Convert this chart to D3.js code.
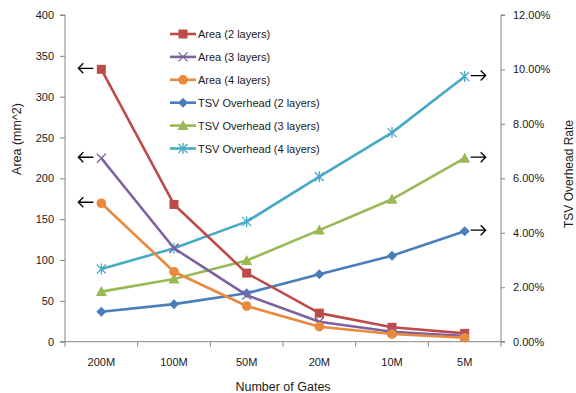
<!DOCTYPE html>
<html>
<head>
<meta charset="utf-8">
<script src="https://cdn.jsdelivr.net/npm/d3@7/dist/d3.min.js"></script>
<style>
  html, body { margin: 0; padding: 0; background: #fff; }
  svg { display: block; font-family: "Liberation Sans", Arial, sans-serif; }
</style>
</head>
<body>
<svg id="chart" width="576" height="393"></svg>
<script>
// Gate-count categories along the x axis
const categories = ["200M", "100M", "50M", "20M", "10M", "5M"];

// Die area (mm^2), left axis
const area2 = [333.5, 168, 84, 35, 17.6, 10.2];
const area3 = [224.6, 114.4, 57, 24.5, 12.2, 7];
const area4 = [169.5, 85.7, 43.7, 18.4, 9.4, 4.9];

// TSV overhead rate (%), right axis
const tsv2 = [1.10, 1.38, 1.78, 2.48, 3.16, 4.06];
const tsv3 = [1.84, 2.30, 2.98, 4.10, 5.23, 6.74];
const tsv4 = [2.67, 3.43, 4.41, 6.06, 7.68, 9.74];

// Axis tick values
const areaTicks = [0, 50, 100, 150, 200, 250, 300, 350, 400];
const rateTicks = [0, 2, 4, 6, 8, 10, 12];

const series = [
  { name: "Area (2 layers)", values: area2, axis: "left", color: "#BE4B48", marker: "square" },
  { name: "Area (3 layers)", values: area3, axis: "left", color: "#7D60A0", marker: "cross" },
  { name: "Area (4 layers)", values: area4, axis: "left", color: "#E8893C", marker: "circle" },
  { name: "TSV Overhead (2 layers)", values: tsv2, axis: "right", color: "#4A7EBB", marker: "diamond" },
  { name: "TSV Overhead (3 layers)", values: tsv3, axis: "right", color: "#98B954", marker: "triangle" },
  { name: "TSV Overhead (4 layers)", values: tsv4, axis: "right", color: "#46AAC5", marker: "star" }
];

const svg = d3.select("#chart");
const plot = { left: 65, right: 501, top: 15, bottom: 341.7 };
const axisColor = "#868686";
const textColor = "#1a1a1a";

const x = d3.scaleBand().domain(categories).range([plot.left, plot.right]).paddingInner(0).paddingOuter(0);
const cx = c => x(c) + x.bandwidth() / 2;
const yL = d3.scaleLinear().domain([0, 400]).range([plot.bottom, plot.top]);
const yR = d3.scaleLinear().domain([0, 12]).range([plot.bottom, plot.top]);

// Left axis
const gL = svg.append("g").attr("transform", `translate(${plot.left},0)`)
  .call(d3.axisLeft(yL).tickValues(areaTicks).tickSize(5).tickPadding(6).tickFormat(d3.format("d")));
// Right axis
const gR = svg.append("g").attr("transform", `translate(${plot.right},0)`)
  .call(d3.axisRight(yR).tickValues(rateTicks).tickSize(4).tickPadding(8).tickFormat(d => d.toFixed(2) + "%"));
// Bottom axis: ticks on category boundaries
const gB = svg.append("g").attr("transform", `translate(0,${plot.bottom})`)
  .call(d3.axisBottom(x).tickSize(0).tickPadding(17));
const bounds = categories.map(c => x(c)).concat([plot.right]);
gB.selectAll(".bound").data(bounds).enter().append("line")
  .attr("x1", d => d).attr("x2", d => d).attr("y1", 0).attr("y2", 5)
  .attr("stroke", axisColor);

[gL, gR, gB].forEach(g => {
  g.select(".domain").attr("stroke", axisColor).attr("stroke-width", 1);
  g.selectAll(".tick line").attr("stroke", axisColor);
  g.selectAll("text").attr("fill", textColor).style("font-size", "11px")
    .style("font-family", "'Liberation Sans', Arial, sans-serif");
});
gL.select(".domain").attr("d", `M-5,${plot.bottom}H0V${plot.top}H-5`);
gR.select(".domain").attr("d", `M4,${plot.bottom}H0V${plot.top}H4`);
gB.select(".domain").attr("d", `M${plot.left},0H${plot.right}`);

// Axis titles
svg.append("text").attr("transform", "translate(21,139) rotate(-90)")
  .attr("text-anchor", "middle").attr("fill", textColor).style("font-size", "12.5px").text("Area (mm^2)");
svg.append("text").attr("transform", "translate(573,174) rotate(-90)")
  .attr("text-anchor", "middle").attr("fill", textColor).style("font-size", "12px").text("TSV Overhead Rate");
svg.append("text").attr("x", 283).attr("y", 391)
  .attr("text-anchor", "middle").attr("fill", textColor).style("font-size", "12.5px").text("Number of Gates");

// Marker drawing
function drawMarker(g, type, color) {
  switch (type) {
    case "square":
      g.append("rect").attr("x", -4.5).attr("y", -4.5).attr("width", 9).attr("height", 9).attr("fill", color);
      break;
    case "circle":
      g.append("circle").attr("r", 4.8).attr("fill", color);
      break;
    case "diamond":
      g.append("path").attr("d", "M0,-5L5,0L0,5L-5,0Z").attr("fill", color);
      break;
    case "triangle":
      g.append("path").attr("d", "M0,-5.5L5.5,4.5L-5.5,4.5Z").attr("fill", color);
      break;
    case "cross":
      g.append("path").attr("d", "M-4.5,-4.5L4.5,4.5M-4.5,4.5L4.5,-4.5").attr("stroke", color).attr("stroke-width", 1.3).attr("fill", "none");
      break;
    case "star":
      g.append("path").attr("d", "M-4.5,-4.5L4.5,4.5M-4.5,4.5L4.5,-4.5M0,-5.5V5.5").attr("stroke", color).attr("stroke-width", 1.3).attr("fill", "none");
      break;
  }
}

// Series lines and markers (TSV lines drawn first, area lines on top)
const drawOrder = [3, 4, 5, 0, 1, 2];
drawOrder.forEach(i => {
  const s = series[i];
  const y = s.axis === "left" ? yL : yR;
  const line = d3.line().x((d, k) => cx(categories[k])).y(d => y(d));
  svg.append("path").datum(s.values).attr("d", line)
    .attr("fill", "none").attr("stroke", s.color).attr("stroke-width", 2.6)
    .attr("stroke-linejoin", "round");
  s.values.forEach((v, k) => {
    const g = svg.append("g").attr("transform", `translate(${cx(categories[k])},${y(v)})`);
    drawMarker(g, s.marker, s.color);
  });
});

// Arrows indicating which axis each series reads from
function arrow(x0, y0, dir) {
  const len = 15, head = 5;
  const tip = dir < 0 ? x0 - len : x0 + len;
  svg.append("path")
    .attr("d", `M${x0},${y0}H${tip}M${tip - dir * head},${y0 - head}L${tip},${y0}L${tip - dir * head},${y0 + head}`)
    .attr("fill", "none").attr("stroke", "#000").attr("stroke-width", 1.3);
}
[area2, area3, area4].forEach(vals => {
  arrow(cx(categories[0]) - 8, yL(vals[0]) - 1, -1);
});
[tsv2, tsv3, tsv4].forEach(vals => {
  const last = vals.length - 1;
  arrow(cx(categories[last]) + 6, yR(vals[last]) - 1, 1);
});

// Legend
const legend = svg.append("g").attr("transform", "translate(170,34)");
series.forEach((s, i) => {
  const g = legend.append("g").attr("transform", `translate(0,${i * 22.9})`);
  g.append("line").attr("x1", 0).attr("x2", 26).attr("y1", 0).attr("y2", 0)
    .attr("stroke", s.color).attr("stroke-width", 2.6);
  const m = g.append("g").attr("transform", "translate(13,0)");
  drawMarker(m, s.marker, s.color);
  g.append("text").attr("x", 28).attr("y", 4).attr("fill", textColor)
    .style("font-size", "11px").text(s.name);
});
</script>
</body>
</html>
